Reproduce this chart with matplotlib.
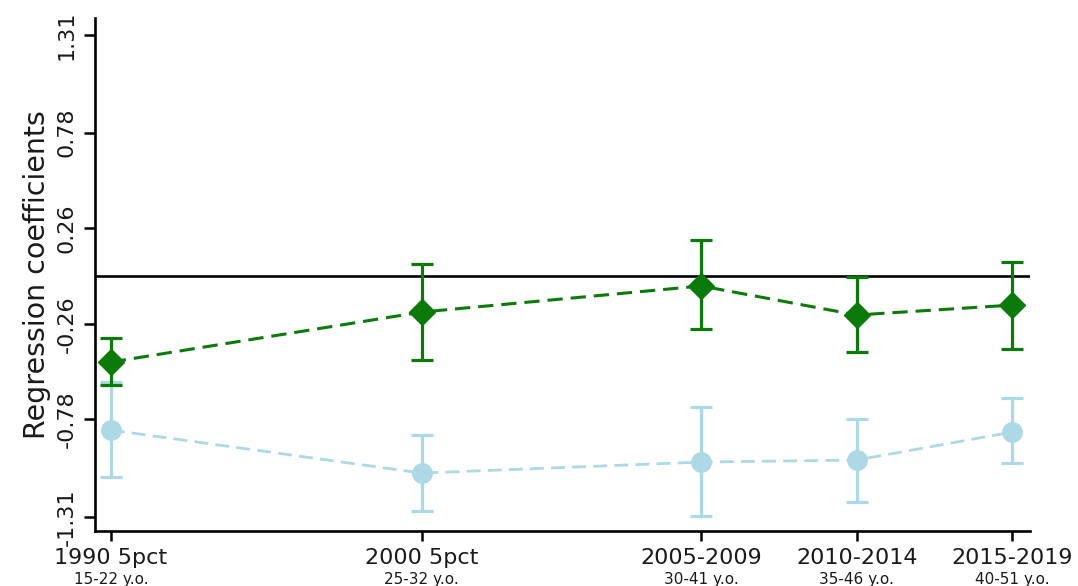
import matplotlib
matplotlib.use("Agg")
import matplotlib.pyplot as plt
import matplotlib.transforms as mtransforms

# Data
periods = ["1990 5pct", "2000 5pct", "2005-2009", "2010-2014", "2015-2019"]
ages = ["15-22 y.o.", "25-32 y.o.", "30-41 y.o.", "35-46 y.o.", "40-51 y.o."]
x_pos = [1990, 2000, 2009, 2014, 2019]

green_coef = [-0.468, -0.196, -0.054, -0.212, -0.158]
green_lo = [-0.593, -0.457, -0.288, -0.413, -0.397]
green_hi = [-0.337, 0.065, 0.196, -0.005, 0.076]

blue_coef = [-0.838, -1.072, -1.012, -1.001, -0.849]
blue_lo = [-1.094, -1.279, -1.306, -1.230, -1.017]
blue_hi = [-0.577, -0.865, -0.713, -0.778, -0.664]

yticks = [-1.31, -0.78, -0.26, 0.26, 0.78, 1.31]
ytick_labels = ["-1.31", "-0.78", "-0.26", "0.26", "0.78", "1.31"]

GREEN = "#0b7a0b"
LBLUE = "#add8e6"

fig = plt.figure(figsize=(10.78, 5.86), dpi=100)
ax = fig.add_axes([0.0881, 0.0939, 0.8674, 0.8754])

ax.axhline(0, color="black", lw=1.9, zorder=1)

def draw(coef, lo, hi, color, marker, ms, lw_line, z):
    yerr = [[c - l for c, l in zip(coef, lo)], [h - c for c, h in zip(coef, hi)]]
    ax.errorbar(x_pos, coef, yerr=yerr, fmt="none", ecolor=color,
                elinewidth=2.3, capsize=8, capthick=2.3, zorder=z)
    ax.plot(x_pos, coef, color=color, ls=(0, (5, 2.6)), lw=lw_line, zorder=z)
    ax.plot(x_pos, coef, ls="none", marker=marker, ms=ms, color=color,
            markeredgecolor=color, zorder=z + 0.5)

draw(blue_coef, blue_lo, blue_hi, LBLUE, "o", 14, 2.0, 2)
draw(green_coef, green_lo, green_hi, GREEN, "D", 13.5, 2.2, 3)

ax.set_xlim(1989.49, 2019.58)
ax.set_ylim(-1.387, 1.404)

ax.set_yticks(yticks)
ax.set_yticklabels(ytick_labels, rotation=90, va="center", fontsize=16, color="#1a1a1a")
ax.set_xticks(x_pos)
ax.set_xticklabels(periods, fontsize=16, color="#1a1a1a")
ax.tick_params(axis="x", length=7, width=1.8, pad=5)
ax.tick_params(axis="y", length=8, width=1.8, pad=5)

trans = mtransforms.blended_transform_factory(ax.transData, ax.transAxes)
for xp, a in zip(x_pos, ages):
    ax.annotate(a, xy=(xp, 0), xycoords=trans, xytext=(0, -29.5),
                textcoords="offset points", ha="center", va="top",
                fontsize=11, color="#1a1a1a", annotation_clip=False)

ax.set_ylabel("Regression coefficients", fontsize=20.5, color="#1a1a1a", labelpad=4)

for s in ["top", "right"]:
    ax.spines[s].set_visible(False)
for s in ["left", "bottom"]:
    ax.spines[s].set_linewidth(1.9)

fig.savefig("out.png", dpi=100)
